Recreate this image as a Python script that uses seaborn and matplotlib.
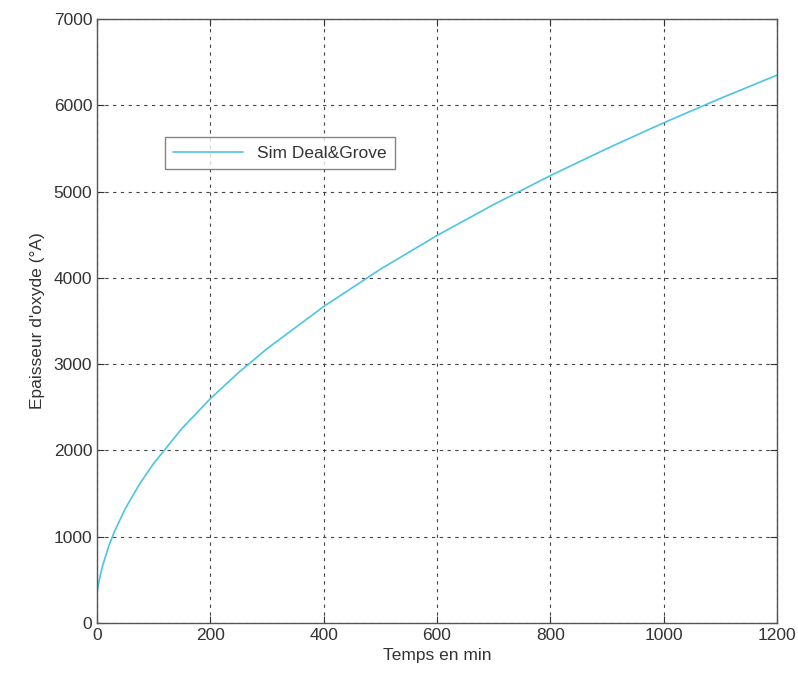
import matplotlib
matplotlib.use("Agg")
import matplotlib.pyplot as plt
import seaborn as sns
import pandas as pd

# Values
temps_min = [0, 1, 2, 5, 10, 20, 30, 50, 75, 100, 150, 200, 250, 300, 400,
             500, 600, 700, 800, 900, 1000, 1100, 1200]
epaisseur_A = [350, 393, 431, 531, 667, 878, 1049, 1327, 1610, 1850, 2256, 2600,
               2904, 3179, 3668, 4100, 4491, 4850, 5185, 5499, 5797, 6080, 6350]
series_name = "Sim Deal&Grove"
x_ticks = [0, 200, 400, 600, 800, 1000, 1200]
y_ticks = [0, 1000, 2000, 3000, 4000, 5000, 6000, 7000]

df = pd.DataFrame({"Temps en min": temps_min,
                   "Epaisseur d'oxyde (°A)": epaisseur_A,
                   "serie": series_name})

sns.set_style("white")
plt.rcParams["font.family"] = ["Liberation Sans", "DejaVu Sans"]

fig = plt.figure(figsize=(7.98, 6.81), dpi=100)
ax = fig.add_axes([0.1216, 0.0852, 0.852, 0.8868])

sns.lineplot(data=df, x="Temps en min", y="Epaisseur d'oxyde (°A)", hue="serie",
             palette=["#4cc4e4"], linewidth=1.2, ax=ax)

ax.set_xlim(0, 1200)
ax.set_ylim(0, 7000)
ax.set_xticks(x_ticks)
ax.set_yticks(y_ticks)
ax.tick_params(direction="in", labelsize=12.5, length=5, width=0.8,
               colors="#333333", bottom=True, left=True, top=True, right=True)
ax.tick_params(labeltop=False, labelright=False)
ax.grid(True, color="#444444", linestyle=(0, (3, 4)), linewidth=0.8)
for s in ax.spines.values():
    s.set_color("#555555")
    s.set_linewidth(1.0)
ax.set_xlabel("Temps en min", fontsize=12.5, color="#333333", labelpad=4)
ax.set_ylabel("Epaisseur d'oxyde (°A)", fontsize=12.5, color="#333333", labelpad=6)

leg = ax.legend(loc="upper left", bbox_to_anchor=(0.0996, 0.805), borderaxespad=0,
                fontsize=12.5, frameon=True, fancybox=False, handlelength=4.0,
                borderpad=0.5)
leg.get_frame().set_edgecolor("#666666")
leg.get_frame().set_linewidth(1.0)
for t in leg.get_texts():
    t.set_color("#333333")

fig.savefig("out.png", dpi=100)
